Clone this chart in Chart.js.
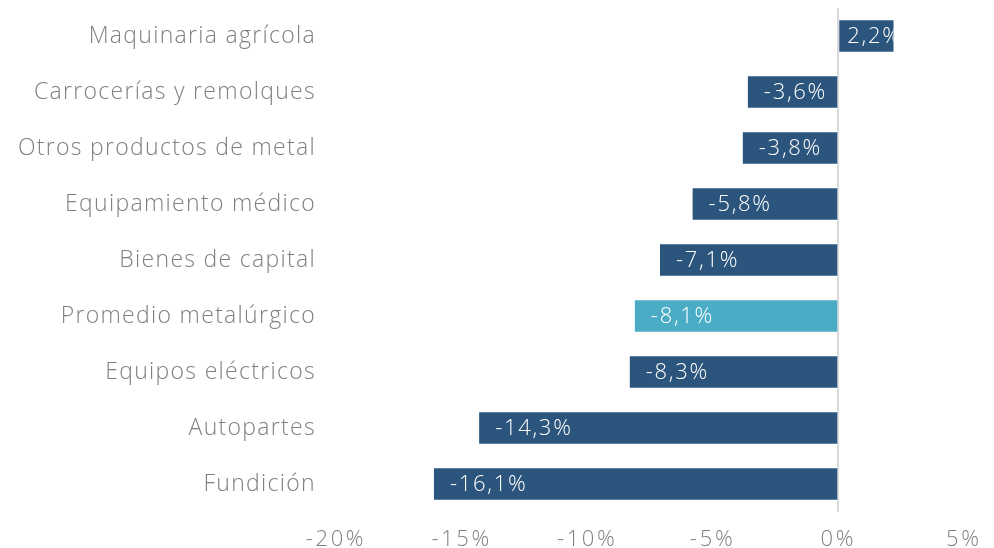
<!DOCTYPE html>
<html>
<head>
<meta charset="utf-8">
<script src="https://cdn.jsdelivr.net/npm/chart.js@4/dist/chart.umd.min.js"></script>
<style>
  html, body { margin: 0; padding: 0; background: #fff; }
  #wrap { width: 994px; height: 548px; }
</style>
</head>
<body>
<div id="wrap"><canvas id="chart"></canvas></div>
<script>
const categories = [
  "Maquinaria agrícola",
  "Carrocerías y remolques",
  "Otros productos de metal",
  "Equipamiento médico",
  "Bienes de capital",
  "Promedio metalúrgico",
  "Equipos eléctricos",
  "Autopartes",
  "Fundición",
];
const values = [2.2, -3.6, -3.8, -5.8, -7.1, -8.1, -8.3, -14.3, -16.1];
const highlight = "Promedio metalúrgico";
const xTicks = [-20, -15, -10, -5, 0, 5];

const FONT = "'Open Sans'";
const dark = "#2b557c";
const light = "#4bacc6";

const fmt = (v) => v.toFixed(1).replace(".", ",") + "%";

// the original font is wider, so stretch text with letter spacing
const spacing = {
  id: "spacing",
  beforeDraw(chart) {
    chart.ctx.letterSpacing = "1.3px";
  },
  afterDatasetsDraw(chart) {
    chart.ctx.letterSpacing = "2.6px";
  },
};

// labels drawn inside the bars, near the far end, clipped to the bar
const barLabels = {
  id: "barLabels",
  afterDatasetsDraw(chart) {
    const ctx = chart.ctx;
    const meta = chart.getDatasetMeta(0);
    ctx.save();
    ctx.letterSpacing = "1.7px";
    ctx.font = `300 22px ${FONT}`;
    ctx.fillStyle = "#fff";
    ctx.textBaseline = "middle";
    ctx.textAlign = "left";
    meta.data.forEach((bar, i) => {
      const v = values[i];
      const left = Math.min(bar.x, bar.base);
      const right = Math.max(bar.x, bar.base);
      const h = bar.height;
      ctx.save();
      ctx.beginPath();
      ctx.rect(left, bar.y - h / 2, right - left, h);
      ctx.clip();
      const tx = v < 0 ? bar.x + 16 : bar.base + 8;
      ctx.fillText(fmt(v), tx, bar.y + 1);
      ctx.restore();
    });
    ctx.restore();
  },
};

new Chart(document.getElementById("chart").getContext("2d"), {
  type: "bar",
  data: {
    labels: categories,
    datasets: [
      {
        data: values,
        backgroundColor: categories.map((c) => (c === highlight ? light : dark)),
        categoryPercentage: 1,
        barPercentage: 0.56,
      },
    ],
  },
  plugins: [barLabels, spacing],
  options: {
    indexAxis: "y",
    responsive: true,
    maintainAspectRatio: false,
    animation: false,
    layout: { padding: { top: 8, right: 28, bottom: 0, left: 0 } },
    plugins: {
      legend: { display: false },
      tooltip: { enabled: false },
    },
    scales: {
      x: {
        min: -20,
        max: 5,
        afterBuildTicks: (scale) => {
          scale.ticks = xTicks.map((v) => ({ value: v }));
        },
        afterFit: (scale) => {
          scale.height = 36;
        },
        border: { display: false },
        grid: {
          z: -1,
          drawTicks: false,
          lineWidth: 2,
          color: (c) => (c.tick && c.tick.value === 0 ? "#d9d9d9" : "rgba(0,0,0,0)"),
        },
        ticks: {
          z: 1,
          padding: 15,
          color: "#808080",
          font: { family: FONT, size: 22, weight: 300 },
          callback: (v) => v + "%",
        },
      },
      y: {
        afterFit: (scale) => {
          scale.width = 336;
          scale.paddingTop = 0;
          scale.paddingBottom = 0;
        },
        border: { display: false },
        grid: { display: false, drawTicks: false },
        ticks: {
          padding: 20,
          color: "#808080",
          font: { family: FONT, size: 23, weight: 300 },
        },
      },
    },
  },
});
</script>
</body>
</html>
